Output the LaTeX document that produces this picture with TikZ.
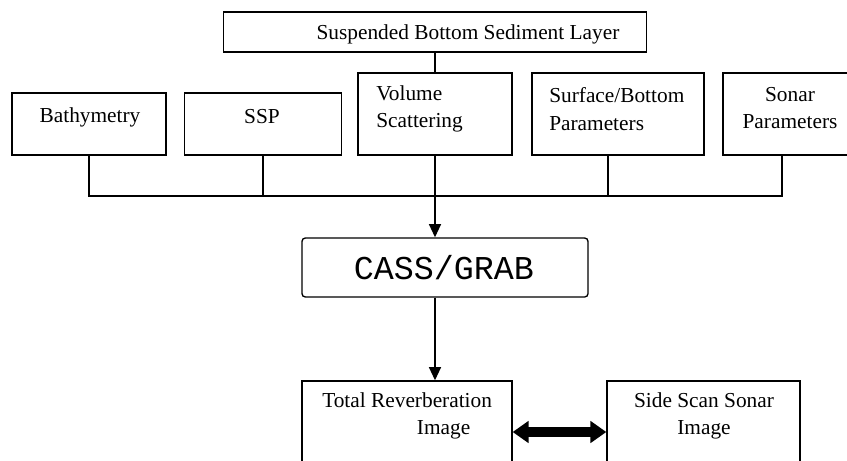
\documentclass[tikz,border=0pt]{standalone}
\usepackage{fontspec}
\setmainfont{Liberation Serif}
\setmonofont{Liberation Mono}
\usetikzlibrary{arrows.meta,positioning}

\tikzset{
  box/.style={draw, rectangle, inner sep=0pt, line width=1pt},
  txt/.style={font=\fontsize{16}{20.5}\selectfont, inner sep=0pt},
  link/.style={line width=1pt},
  flow/.style={line width=1.3pt, -{Triangle[length=10pt,width=9pt]}},
  both/.style={line width=7.5pt, {Triangle[length=12pt,width=16pt]}-{Triangle[length=12pt,width=16pt]}}
}
% box with centre (x,y) and size w x h, all in pixels
\newcommand{\pbox}[6][]{%
  \node[box, #1, minimum width=#5*0.75pt, minimum height=#6*0.75pt] (#2) at (#3,#4) {};}

\begin{document}
\begin{tikzpicture}[x=0.75pt, y=-0.75pt]
    \useasboundingbox (0,0) rectangle (847,461);
    \clip (0,0) rectangle (847,461);

    % Input boxes
    \pbox{layer}{435}{32}{423}{40}
    \pbox{bathy}{89}{124}{154}{62}
    \pbox{ssp}{263}{124}{157}{62}
    \pbox{vol}{435}{114}{154}{82}
    \pbox{surf}{618}{114}{172}{82}
    \pbox{sonar}{796.5}{114}{147}{82}

    \node[txt] (layerT) at (468,34) {Suspended Bottom Sediment Layer};
    \node[txt] (bathyT) at (90,117) {Bathymetry};
    \node[txt] (sspT) at (262,117) {SSP};
    \node[txt, align=left, anchor=west] (volT) at (376,109) {Volume\\Scattering};
    \node[txt, align=left, anchor=west] (surfT) at (549,109) {Surface/Bottom\\Parameters};
    \node[txt, align=center] (sonarT) at (790,108) {Sonar\\Parameters};

    % Model
    \pbox[rounded corners=2.5pt]{cass}{445}{267.5}{286}{59}
    \node[font=\ttfamily\fontsize{25}{28}\selectfont, inner sep=0pt] (cassT) at (444,268) {CASS/GRAB};

    % Outputs
    \pbox{total}{407}{440.5}{210}{119}
    \pbox{side}{703.5}{440.5}{193}{119}
    \node[txt, align=left, anchor=west] (totalT) at (322,416) {Total Reverberation\\\hspace*{71pt}Image};
    \node[txt, align=center] (sideT) at (704,416) {Side Scan Sonar\\Image};

    % Collecting bus
    \coordinate (bus) at (435,196);
    \coordinate (surfDrop) at (608,155);
    \coordinate (sonarDrop) at (782,155);
    \draw[link] (layer.south) -- (layer.south |- vol.north);
    \draw[link] (bathy.south) |- (bus);
    \draw[link] (ssp.south) -- (ssp.south |- bus);
    \draw[link] (vol.south) -- (bus);
    \draw[link] (surfDrop) |- (bus);
    \draw[link] (sonarDrop) |- (bus);

    \draw[flow] (bus) -- (bus |- cass.north);
    \draw[flow] (bus |- cass.south) -- (bus |- total.north);
    \draw[both] (total.east |- 0,432) -- (side.west |- 0,432);
\end{tikzpicture}
\end{document}
